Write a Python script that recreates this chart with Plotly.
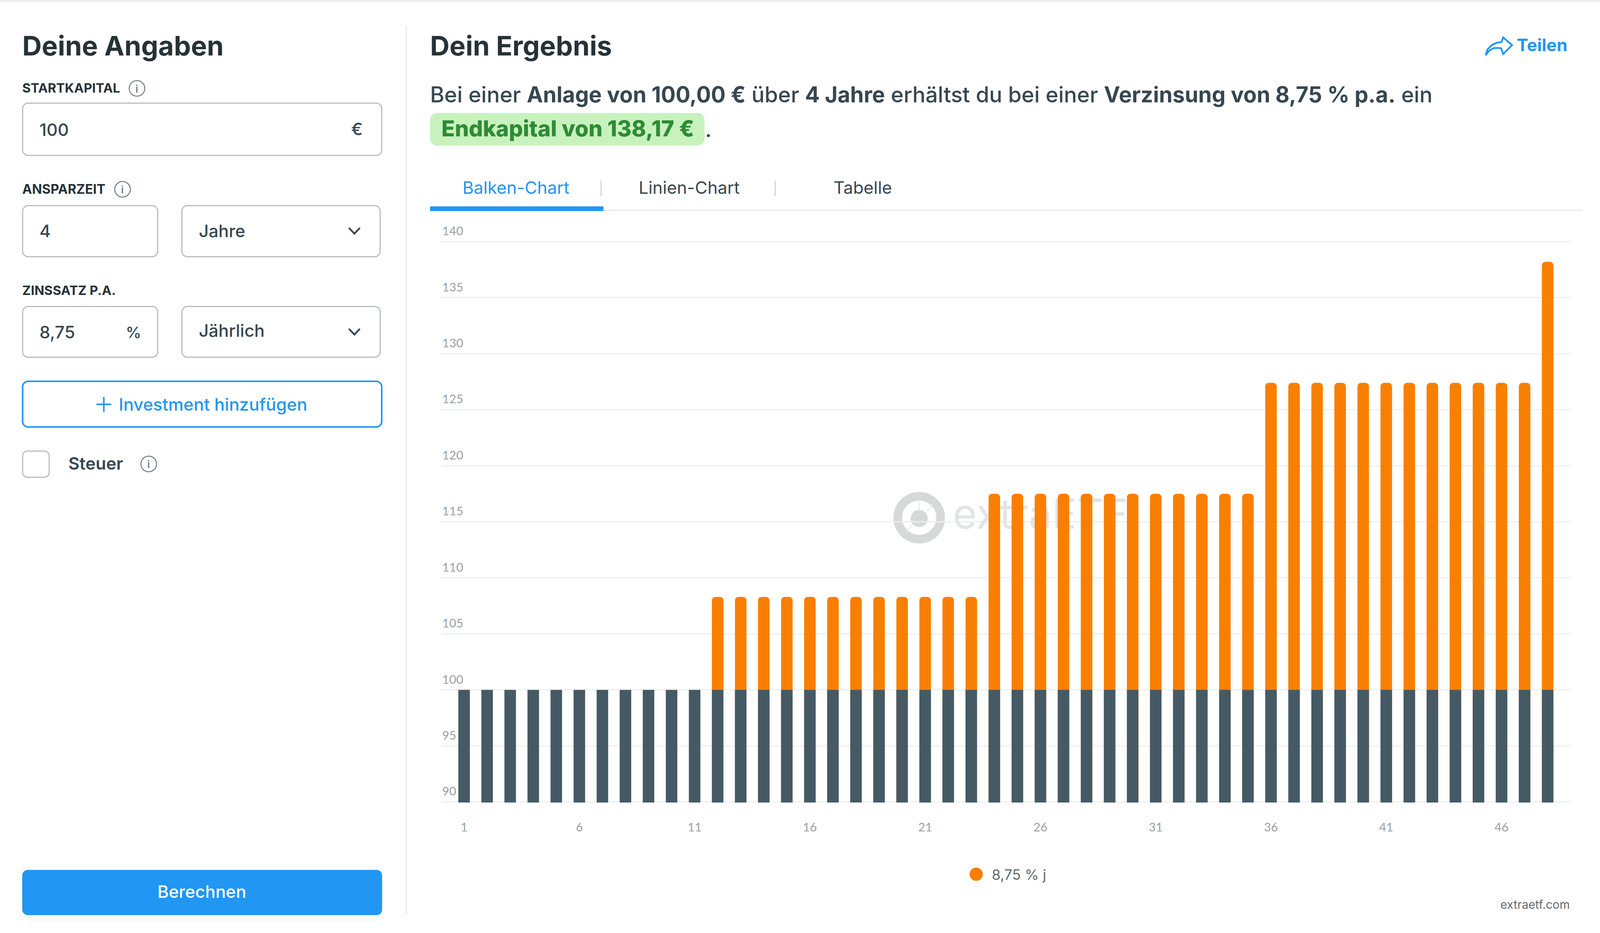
# Zinsrechner screen: bar chart with the input panel drawn around it
import plotly.graph_objects as go

W, H = 4104, 2388

# Chart data
months = list(range(1, 49))
start_capital = [100] * 48
end_value = [None] * 11 + [108.3] * 12 + [117.5] * 12 + [127.4] * 12 + [138.2]
x_ticks = [1, 6, 11, 16, 21, 26, 31, 36, 41, 46]
y_ticks = [90, 95, 100, 105, 110, 115, 120, 125, 130, 135, 140]
legend_label = "8,75 % j"

DARK = "#263238"
TEXT = "#37474f"
BLUE = "#2196f3"
BORDER = "#b9bdc0"
ORANGE = "#f97f00"
SLATE = "#455a64"
TICK = "#9a9ea1"
GRID = "#eeeff0"
FONT = "Inter"

# Plot area in screen pixels. The y range runs past 90 and 140, otherwise
# plotly drops the end gridlines and the raised 140 label.
y_range = [89.95, 143.5]
x_range = [0, 49]
PLOT_L, PLOT_R, PLOT_T, PLOT_B = 1129, 4021, 517.5, 2054.4


# paper coords are relative to the plot area, not the whole page
def px(x):
    return (x - 1 - x * 0.0008 - PLOT_L) / (PLOT_R - PLOT_L)


def py(y):
    return (PLOT_B - y * 0.9978) / (PLOT_B - PLOT_T)


shapes = []
annotations = []


def txt(x, y, s, size, color=TEXT, anchor="left", weight=500):
    annotations.append(dict(x=px(x), y=py(y), xref="paper", yref="paper", text=s, showarrow=False,
                            xanchor=anchor, yanchor="middle", borderpad=0,
                            font=dict(family=FONT, size=size, color=color, weight=weight)))


def rrect(x0, y0, x1, y1, r, line=BORDER, lw=3, fill="white", layer="below"):
    # rounded box, path in paper coords
    k = r * 0.45
    pts = [
        ("M", x0 + r, y0), ("L", x1 - r, y0),
        ("C", x1 - k, y0, x1, y0 + k, x1, y0 + r), ("L", x1, y1 - r),
        ("C", x1, y1 - k, x1 - k, y1, x1 - r, y1), ("L", x0 + r, y1),
        ("C", x0 + k, y1, x0, y1 - k, x0, y1 - r), ("L", x0, y0 + r),
        ("C", x0, y0 + k, x0 + k, y0, x0 + r, y0),
    ]
    d = ""
    for p in pts:
        vals = p[1:]
        d += p[0] + " ".join(f"{px(vals[i]):.5f},{py(vals[i + 1]):.5f}" for i in range(0, len(vals), 2)) + " "
    shapes.append(dict(type="path", path=d + "Z", xref="paper", yref="paper", layer=layer,
                       line=dict(color=line, width=lw), fillcolor=fill))


def hline(x0, x1, y, color, lw):
    shapes.append(dict(type="line", xref="paper", yref="paper", x0=px(x0), x1=px(x1), y0=py(y), y1=py(y),
                       line=dict(color=color, width=lw), layer="below"))


def vline(x, y0, y1, color, lw):
    shapes.append(dict(type="line", xref="paper", yref="paper", x0=px(x), x1=px(x), y0=py(y0), y1=py(y1),
                       line=dict(color=color, width=lw), layer="below"))


def circle(cx, cy, r, line=None, lw=0, fill="rgba(0,0,0,0)"):
    shapes.append(dict(type="circle", xref="paper", yref="paper", layer="below",
                       x0=px(cx - r), x1=px(cx + r), y0=py(cy + r), y1=py(cy - r),
                       line=dict(color=line or fill, width=lw), fillcolor=fill))


def polyline(points, color, lw):
    d = "M" + " L".join(f"{px(a):.5f},{py(b):.5f}" for a, b in points)
    shapes.append(dict(type="path", path=d, xref="paper", yref="paper", layer="below",
                       line=dict(color=color, width=lw)))


def info(cx, cy):
    circle(cx, cy, 20, line="#6d7a80", lw=2.5)
    txt(cx, cy + 1, "i", 26, "#546e7a", "center", 500)


def chevron(cx, cy):
    polyline([(cx - 14, cy - 7), (cx, cy + 8), (cx + 14, cy - 7)], "#37474f", 4.5)


# page frame
hline(0, W, 2, "#eceeef", 5)
vline(1042, 65, 2347, "#e6e7e8", 3)

# left panel
txt(57, 117, "Deine Angaben", 69, DARK, weight=700)

txt(57, 225, "STARTKAPITAL", 33, DARK, weight=700)
info(352, 226)
rrect(59, 264, 979, 398, 14)
txt(101, 332, "100", 44)
txt(916, 330, "€", 44, anchor="center")

txt(57, 485, "ANSPARZEIT", 33.5, DARK, weight=700)
info(315, 485)
rrect(59, 527, 405, 658, 14)
txt(101, 592, "4", 44)
rrect(467, 527, 975, 658, 14)
txt(509, 592, "Jahre", 44)
chevron(909, 591)

txt(57, 744, "ZINSSATZ P.A.", 33, DARK, weight=700)
rrect(59, 786, 405, 916, 14)
txt(101, 852, "8,75", 44)
txt(343, 852, "%", 40, anchor="center")
rrect(467, 786, 975, 916, 14)
txt(509, 848, "Jährlich", 44)
chevron(909, 850)

rrect(59, 978, 979, 1095, 14, line=BLUE, lw=4)
hline(248, 286, 1037, BLUE, 4)
vline(267, 1018, 1056, BLUE, 4)
txt(304, 1037, "Investment hinzufügen", 44, BLUE)

rrect(59, 1157, 127, 1224, 12)
txt(175, 1189, "Steuer", 44, weight=600)
info(382, 1190)

rrect(66, 2262, 972, 2364, 14, line="#f7f8f8", lw=0, fill="#f7f8f8")
rrect(58, 2232, 980, 2348, 14, line=BLUE, lw=0, fill=BLUE)
txt(518, 2288, "Berechnen", 44, "white", "center")

# result header
txt(1102, 117, "Dein Ergebnis", 69, DARK, weight=700)
polyline([(3807, 141), (3812, 126), (3823, 115), (3836, 109), (3848, 107), (3852, 95), (3875, 115),
          (3852, 138), (3847, 123), (3836, 122), (3827, 123), (3816, 130), (3807, 141)], BLUE, 4.5)
txt(4018, 115, "Teilen", 44, BLUE, "right", 700)

txt(1102, 241,
    "Bei einer <b>Anlage von 100,00 €</b> über <b>4 Jahre</b> erhältst du bei einer "
    "<b>Verzinsung von 8,75 % p.a.</b> ein", 55.7)
rrect(1103, 289, 1806, 373, 18, line="#c8f2bd", lw=0, fill="#c8f2bd")
txt(1131, 329, "Endkapital von 138,17 €", 56.4, "#2e8b36", weight=800)
txt(1806, 331, ".", 56)

# tabs
txt(1323, 481, "Balken-Chart", 44, BLUE, "center", 400)
txt(1767, 481, "Linien-Chart", 44, TEXT, "center", 400)
txt(2211, 481, "Tabelle", 44, TEXT, "center", 400)
vline(1541, 463, 503, "#c9cccd", 2.5)
vline(1987, 463, 503, "#c9cccd", 2.5)
hline(1547, 4055, 539, "#e6e7e8", 3)
hline(1103, 1547, 535, BLUE, 12)

# watermark logo, sits under the bars
circle(2356, 1328, 55, line="#d6d8d9", lw=22)
circle(2356, 1330, 22, fill="#d6d8d9")
polyline([(2356, 1285), (2356, 1310)], "#e4e6e7", 2)
polyline([(2375, 1312), (2392, 1292)], "#e4e6e7", 2)
polyline([(2340, 1345), (2322, 1365)], "#e4e6e7", 2)

# legend and footer
circle(2502, 2243, 17, fill=ORANGE)
txt(2541, 2244, legend_label, 36.5, "#5f6b70", weight=400)
txt(4024, 2321, "extraetf.com", 30, "#5f6b70", "right", 400)

fig = go.Figure()

# watermark word on the lower axes so that the bars cover it
fig.add_trace(go.Scatter(x=[22.2], y=[115.3], mode="text", text=["extraETF"], textposition="middle right",
                         textfont=dict(family=FONT, size=106, color="#e2e4e5"), showlegend=False,
                         hoverinfo="skip", xaxis="x", yaxis="y"))
# overlay instead of stack: a stack rounds the grey bars too
fig.add_trace(go.Bar(x=months, y=end_value, name=legend_label, marker=dict(color=ORANGE, line_width=0, cornerradius=9),
                     xaxis="x2", yaxis="y2", showlegend=False))
fig.add_trace(go.Bar(x=months, y=start_capital, marker=dict(color=SLATE, line_width=0, cornerradius=0),
                     xaxis="x2", yaxis="y2", showlegend=False))

fig.update_layout(
    width=W, height=H, autosize=False,
    margin=dict(l=PLOT_L, r=W - PLOT_R, t=PLOT_T, b=H - PLOT_B, pad=0),
    paper_bgcolor="white", plot_bgcolor="rgba(0,0,0,0)",
    barmode="overlay", bargap=0.5, showlegend=False,
    font=dict(family=FONT),
    shapes=shapes, annotations=annotations,
    xaxis=dict(range=x_range, tickmode="array", tickvals=x_ticks, ticktext=[str(v) for v in x_ticks],
               showgrid=False, zeroline=False, showline=False, ticks="", ticklabelstandoff=42,
               tickfont=dict(family="Lato", size=31, color=TICK)),
    yaxis=dict(range=y_range, tickmode="array", tickvals=y_ticks, ticktext=[str(v) for v in y_ticks],
               showgrid=True, gridcolor=GRID, gridwidth=3, zeroline=False, showline=False, ticks="",
               ticklabelposition="inside", ticklabelshift=-27, ticklabelstandoff=0,
               tickfont=dict(family="Lato", size=31, color=TICK)),
    xaxis2=dict(range=x_range, overlaying="x", visible=False, anchor="y2"),
    yaxis2=dict(range=y_range, overlaying="y", visible=False, anchor="x2"),
)

fig.write_html("out.html", config=dict(displayModeBar=False), post_script="document.body.style.margin='0';")
